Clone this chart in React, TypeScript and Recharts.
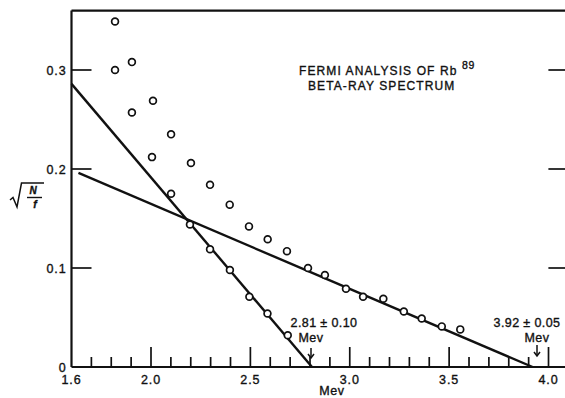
import React from "react";
import {
  ComposedChart,
  Scatter,
  XAxis,
  YAxis,
  ReferenceLine,
  Customized,
} from "recharts";

// raw Fermi plot points (upper branch continuing along the shallow line)
const RAW_X = [1.819, 1.904, 2.01, 2.101, 2.201, 2.297, 2.396, 2.493, 2.587, 2.684, 2.79, 2.875, 2.981, 3.067, 3.169, 3.272, 3.362, 3.463, 3.556];
const RAW_Y = [0.349, 0.308, 0.269, 0.235, 0.206, 0.184, 0.164, 0.142, 0.129, 0.117, 0.1, 0.093, 0.079, 0.071, 0.069, 0.056, 0.049, 0.041, 0.038];

// points after subtracting the high-energy component
const LOW_X = [1.819, 1.904, 2.005, 2.101, 2.196, 2.297, 2.397, 2.495, 2.586, 2.688];
const LOW_Y = [0.3, 0.257, 0.212, 0.175, 0.144, 0.119, 0.098, 0.071, 0.054, 0.032];

// fitted lines (end points)
const STEEP_LINE = [
  { x: 1.6, y: 0.286 },
  { x: 2.81, y: 0 },
];
const SHALLOW_LINE = [
  { x: 1.635, y: 0.196 },
  { x: 3.92, y: 0 },
];

const X_TICKS = [1.6, 1.7, 1.8, 1.9, 2.0, 2.1, 2.2, 2.3, 2.4, 2.5, 2.6, 2.7, 2.8, 2.9, 3.0, 3.1, 3.2, 3.3, 3.4, 3.5, 3.6, 3.7, 3.8, 3.9, 4.0];
const X_MAJOR = [1.6, 2.0, 2.5, 3.0, 3.5, 4.0];
const Y_TICKS = [0, 0.1, 0.2, 0.3];

const rawData = RAW_X.map((x, i) => ({ x, y: RAW_Y[i] }));
const lowData = LOW_X.map((x, i) => ({ x, y: LOW_Y[i] }));

const FONT = "'Liberation Sans', Arial, sans-serif";
const INK = "#111";
// slight outline so the lettering reads as heavy as the printed figure
const TEXT_STROKE = { stroke: INK, strokeWidth: 0.35 };

const isMajor = (v: number) => X_MAJOR.some((m) => Math.abs(m - v) < 1e-6);

const BottomTick = (props: any) => {
  const { x, y, payload } = props;
  const v = payload.value;
  const major = isMajor(v);
  return (
    <g>
      {v > 1.65 && (
        <line x1={x} x2={x} y1={y} y2={y - (major ? 20 : 10)} stroke={INK} strokeWidth={1.7} />
      )}
      {major && (
        <text x={x} y={y + 17} textAnchor="middle" fontSize={12.5} fontFamily={FONT} fill={INK} letterSpacing={0.9} {...TEXT_STROKE}>
          {v.toFixed(1)}
        </text>
      )}
    </g>
  );
};

const TopTick = (props: any) => {
  const { x, y, payload } = props;
  const v = payload.value;
  if (v < 1.65) return <g />;
  return <line x1={x} x2={x} y1={y} y2={y + (isMajor(v) ? 19 : 10)} stroke={INK} strokeWidth={1.7} />;
};

const LeftTick = (props: any) => {
  const { x, y, payload } = props;
  const v = payload.value;
  return (
    <g>
      {v > 0 && <line x1={x} x2={x + 20} y1={y} y2={y} stroke={INK} strokeWidth={1.7} />}
      <text x={x - 5} y={y + 4.5} textAnchor="end" fontSize={12.5} fontFamily={FONT} fill={INK} letterSpacing={0.9} {...TEXT_STROKE}>
        {v === 0 ? "0" : v.toFixed(1)}
      </text>
    </g>
  );
};

const RightTick = (props: any) => {
  const { x, y, payload } = props;
  if (payload.value <= 0) return <g />;
  return <line x1={x} x2={x - 18} y1={y} y2={y} stroke={INK} strokeWidth={1.7} />;
};

const OpenCircle = (props: any) => {
  const { cx, cy } = props;
  return <circle cx={cx} cy={cy} r={3.4} fill="#fff" stroke={INK} strokeWidth={1.7} />;
};

const Arrow = ({ x, y1, y2 }: { x: number; y1: number; y2: number }) => (
  <g stroke={INK} strokeWidth={1.5} fill="none">
    <line x1={x} x2={x} y1={y1} y2={y2} />
    <polyline points={`${x - 3},${y2 - 4} ${x},${y2} ${x + 3},${y2 - 4}`} />
  </g>
);

const Annotations = () => (
  <g fontFamily={FONT} fill={INK} {...TEXT_STROKE}>
    <text x={299} y={75} fontSize={12} letterSpacing={1.1}>
      FERMI ANALYSIS OF Rb
    </text>
    <text x={462} y={69} fontSize={10.5} letterSpacing={0.6}>
      89
    </text>
    <text x={308} y={90} fontSize={12} letterSpacing={1.1}>
      BETA-RAY SPECTRUM
    </text>

    <text x={324} y={327} fontSize={12.5} textAnchor="middle" letterSpacing={0.4}>
      2.81 ± 0.10
    </text>
    <text x={311} y={342} fontSize={12.5} textAnchor="middle" letterSpacing={0.5}>
      Mev
    </text>
    <Arrow x={311} y1={348} y2={358} />

    <text x={527} y={327} fontSize={12.5} textAnchor="middle" letterSpacing={0.4}>
      3.92 ± 0.05
    </text>
    <text x={537} y={342} fontSize={12.5} textAnchor="middle" letterSpacing={0.5}>
      Mev
    </text>
    <Arrow x={537} y1={345} y2={356} />

    <text x={332} y={395} fontSize={12.5} textAnchor="middle" letterSpacing={0.6}>
      Mev
    </text>

    {/* sqrt(N / f) axis label */}
    <path d="M10,200 L13,197.5 L17,207 L21.5,183 L44,183" stroke={INK} strokeWidth={1.5} fill="none" />
    <text x={33} y={194} fontSize={10} fontStyle="italic" fontWeight="bold" textAnchor="middle">
      N
    </text>
    <line x1={27} x2={42} y1={197.5} y2={197.5} stroke={INK} strokeWidth={1.4} />
    <text x={35} y={208} fontSize={10.5} fontStyle="italic" fontWeight="bold" textAnchor="middle">
      f
    </text>
  </g>
);

export default function App() {
  return (
    <div style={{ position: "absolute", left: 0, top: 0, width: 565, height: 398, overflow: "hidden", background: "#fff" }}>
      <ComposedChart width={600} height={398} margin={{ top: 0, right: 0, bottom: 0, left: 0 }}>
        <XAxis
          dataKey="x"
          type="number"
          domain={[1.6, 4.09]}
          allowDataOverflow
          ticks={X_TICKS}
          interval={0}
          tickSize={0}
          tickMargin={0}
          tickLine={false}
          height={31}
          axisLine={{ stroke: INK, strokeWidth: 2.2 }}
          tick={<BottomTick />}
        />
        <XAxis
          xAxisId="top"
          orientation="top"
          type="number"
          domain={[1.6, 4.09]}
          allowDataOverflow
          ticks={X_TICKS}
          interval={0}
          tickSize={0}
          tickMargin={0}
          tickLine={false}
          height={10.6}
          axisLine={{ stroke: INK, strokeWidth: 2.2 }}
          tick={<TopTick />}
        />
        <YAxis
          dataKey="y"
          type="number"
          domain={[0, 0.36]}
          allowDataOverflow
          ticks={Y_TICKS}
          interval={0}
          tickSize={0}
          tickMargin={0}
          tickLine={false}
          width={71.5}
          axisLine={{ stroke: INK, strokeWidth: 2.2 }}
          tick={<LeftTick />}
        />
        <YAxis
          yAxisId="r"
          orientation="right"
          type="number"
          domain={[0, 0.36]}
          allowDataOverflow
          ticks={Y_TICKS}
          interval={0}
          tickSize={0}
          tickMargin={0}
          tickLine={false}
          width={33.6}
          axisLine={{ stroke: INK, strokeWidth: 2.2 }}
          tick={<RightTick />}
        />

        <ReferenceLine segment={STEEP_LINE} stroke={INK} strokeWidth={2.4} />
        <ReferenceLine segment={SHALLOW_LINE} stroke={INK} strokeWidth={2.4} />

        <Scatter data={rawData} shape={<OpenCircle />} isAnimationActive={false} />
        <Scatter data={lowData} shape={<OpenCircle />} isAnimationActive={false} />

        <Customized component={<Annotations />} />
      </ComposedChart>
    </div>
  );
}
